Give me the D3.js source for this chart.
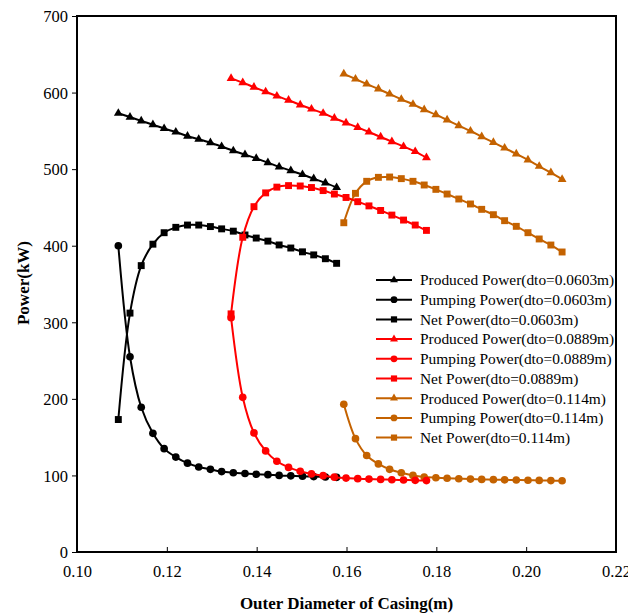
<!DOCTYPE html>
<html><head><meta charset="utf-8">
<script src="https://cdn.jsdelivr.net/npm/d3@7"></script>
<style>body{margin:0;background:#fff}svg{display:block}</style>
</head><body>
<svg id="c" width="628" height="614"></svg>
<script>
// ---- data ----
const xBlack = [0.1092,0.1118,0.1143,0.1169,0.1194,0.1220,0.1246,0.1271,0.1297,0.1322,0.1348,0.1374,0.1399,0.1425,0.1450,0.1476,0.1502,0.1527,0.1553,0.1578];
const producedBlack = [573,568,563,558,553,548.5,543,539,534.5,529.5,524,519,514,508.5,503,498,493,487.5,482,476];
const pumpingBlack  = [400,255,189,155,135,124,116,111,108,105,103.5,102.5,101.5,101,100,99.5,99,98.5,98,97.5];
const netBlack      = [173,312,374,402,417,424,427,427,425,422,419,414,410,406,401,397,392,388,383,377];

const xRed = [0.1343,0.1369,0.1394,0.1420,0.1445,0.1471,0.1497,0.1522,0.1548,0.1573,0.1599,0.1625,0.1650,0.1676,0.1701,0.1727,0.1753,0.1778];
const producedRed = [618.5,613,607,601,595.5,590,584,578.5,573,566.5,560.5,554.5,548.5,542,536,529.5,523,515];
const pumpingRed  = [306,202,155.5,132,118.5,110.5,105.5,102,99.7,97.7,96.5,95.8,95.2,94.8,94.3,94,93.6,93.3];
const netRed      = [311,411,451,469,476.5,478.5,478,476,472,467.5,463,457.5,452,446,440,433.5,427,420];

const xOrange = [0.1594,0.1620,0.1645,0.1671,0.1696,0.1722,0.1748,0.1773,0.1799,0.1824,0.1850,0.1876,0.1901,0.1927,0.1952,0.1978,0.2004,0.2029,0.2055,0.2080];
const producedOrange = [624.3,617.7,611.2,604.7,598.1,591.2,584.7,577.6,571.1,564.2,556.8,549.8,542.4,535,527.6,519.8,512,503.7,495.4,486.7];
const pumpingOrange  = [193,148,126,115,108,103.5,100,98,97,96.3,95.7,95.2,94.8,94.5,94.2,94,93.7,93.5,93.3,93];
const netOrange      = [430,468.4,484.1,489.3,489.7,487.6,484.1,479.3,473.6,467.5,461,454.5,447.5,440.5,432.7,425.3,417,408.8,400.9,391.8];

const xTicks = [0.10,0.12,0.14,0.16,0.18,0.20,0.22];
const yTicks = [0,100,200,300,400,500,600,700];

const seriesNames = [
  "Produced Power(dto=0.0603m)","Pumping Power(dto=0.0603m)","Net Power(dto=0.0603m)",
  "Produced Power(dto=0.0889m)","Pumping Power(dto=0.0889m)","Net Power(dto=0.0889m)",
  "Produced Power(dto=0.114m)","Pumping Power(dto=0.114m)","Net Power(dto=0.114m)"
];
const seriesColors = ["#000000","#000000","#000000","#ff0000","#ff0000","#ff0000","#c46200","#c46200","#c46200"];
const seriesMarkers = ["triangle","circle","square","triangle","circle","square","triangle","circle","square"];

const seriesX = [xBlack,xBlack,xBlack,xRed,xRed,xRed,xOrange,xOrange,xOrange];
const seriesY = [producedBlack,pumpingBlack,netBlack,producedRed,pumpingRed,netRed,producedOrange,pumpingOrange,netOrange];

// ---- drawing ----
const svg = d3.select("#c");
const L=77, R=616, T=16, B=552;
const font = "'Liberation Serif','Times New Roman',serif";
const x = d3.scaleLinear().domain([0.10,0.22]).range([L,R]);
const y = d3.scaleLinear().domain([0,700]).range([B,T]);

const symType = {triangle:d3.symbolTriangle, circle:d3.symbolCircle, square:d3.symbolSquare};
const symSize = {triangle:34, circle:46, square:48};

// series
const line = d3.line().x(d=>x(d[0])).y(d=>y(d[1])).curve(d3.curveCatmullRom.alpha(0.5));
const order = [6,7,8,0,1,2,3,4,5];
order.forEach(i=>{
  const pts = seriesX[i].map((v,k)=>[v,seriesY[i][k]]);
  const g = svg.append("g");
  g.append("path").attr("d",line(pts)).attr("fill","none").attr("stroke",seriesColors[i]).attr("stroke-width",2);
  g.selectAll("path.m").data(pts).join("path").attr("class","m")
    .attr("transform",d=>`translate(${x(d[0])},${y(d[1])})`)
    .attr("d",d3.symbol().type(symType[seriesMarkers[i]]).size(symSize[seriesMarkers[i]]))
    .attr("fill",seriesColors[i]);
});

// axes
const xAxis = d3.axisBottom(x).tickValues(xTicks).tickFormat(d3.format(".2f")).tickSizeInner(-5).tickSizeOuter(0).tickPadding(13);
const yAxis = d3.axisLeft(y).tickValues(yTicks).tickFormat(d3.format("d")).tickSizeInner(5).tickSizeOuter(0).tickPadding(4);
const gx = svg.append("g").attr("transform",`translate(0,${B})`).call(xAxis);
const gy = svg.append("g").attr("transform",`translate(${L},0)`).call(yAxis);
[gx,gy].forEach(g=>{
  g.attr("font-family",font);
  g.select(".domain").remove();
  g.selectAll("line").attr("stroke","#000").attr("stroke-width",1);
  g.selectAll("text").attr("font-family",font).attr("font-size",16.5).attr("fill","#000");
});
gy.selectAll("text").attr("dy","0.35em");
// frame
svg.append("rect").attr("x",L).attr("y",T).attr("width",R-L).attr("height",B-T)
  .attr("fill","none").attr("stroke","#000").attr("stroke-width",2);

// axis titles
svg.append("text").attr("x",(230+463)/2).attr("y",609).attr("text-anchor","middle")
  .attr("font-family",font).attr("font-weight","bold").attr("font-size",17).text("Outer Diameter of Casing(m)");
svg.append("text").attr("transform","translate(29,283) rotate(-90)").attr("text-anchor","middle")
  .attr("font-family",font).attr("font-weight","bold").attr("font-size",17).text("Power(kW)");

// legend
const lg = svg.append("g");
seriesNames.forEach((n,i)=>{
  const yy = 280 + i*19.7;
  lg.append("line").attr("x1",376).attr("x2",412).attr("y1",yy).attr("y2",yy).attr("stroke",seriesColors[i]).attr("stroke-width",2);
  lg.append("path").attr("transform",`translate(394,${yy})`)
    .attr("d",d3.symbol().type(symType[seriesMarkers[i]]).size(symSize[seriesMarkers[i]]*0.8)).attr("fill",seriesColors[i]);
  lg.append("text").attr("x",420).attr("y",yy).attr("dy","0.35em").attr("font-family",font).attr("font-size",15.4)
    .attr("fill","#000").text(n);
});
</script>
</body></html>
